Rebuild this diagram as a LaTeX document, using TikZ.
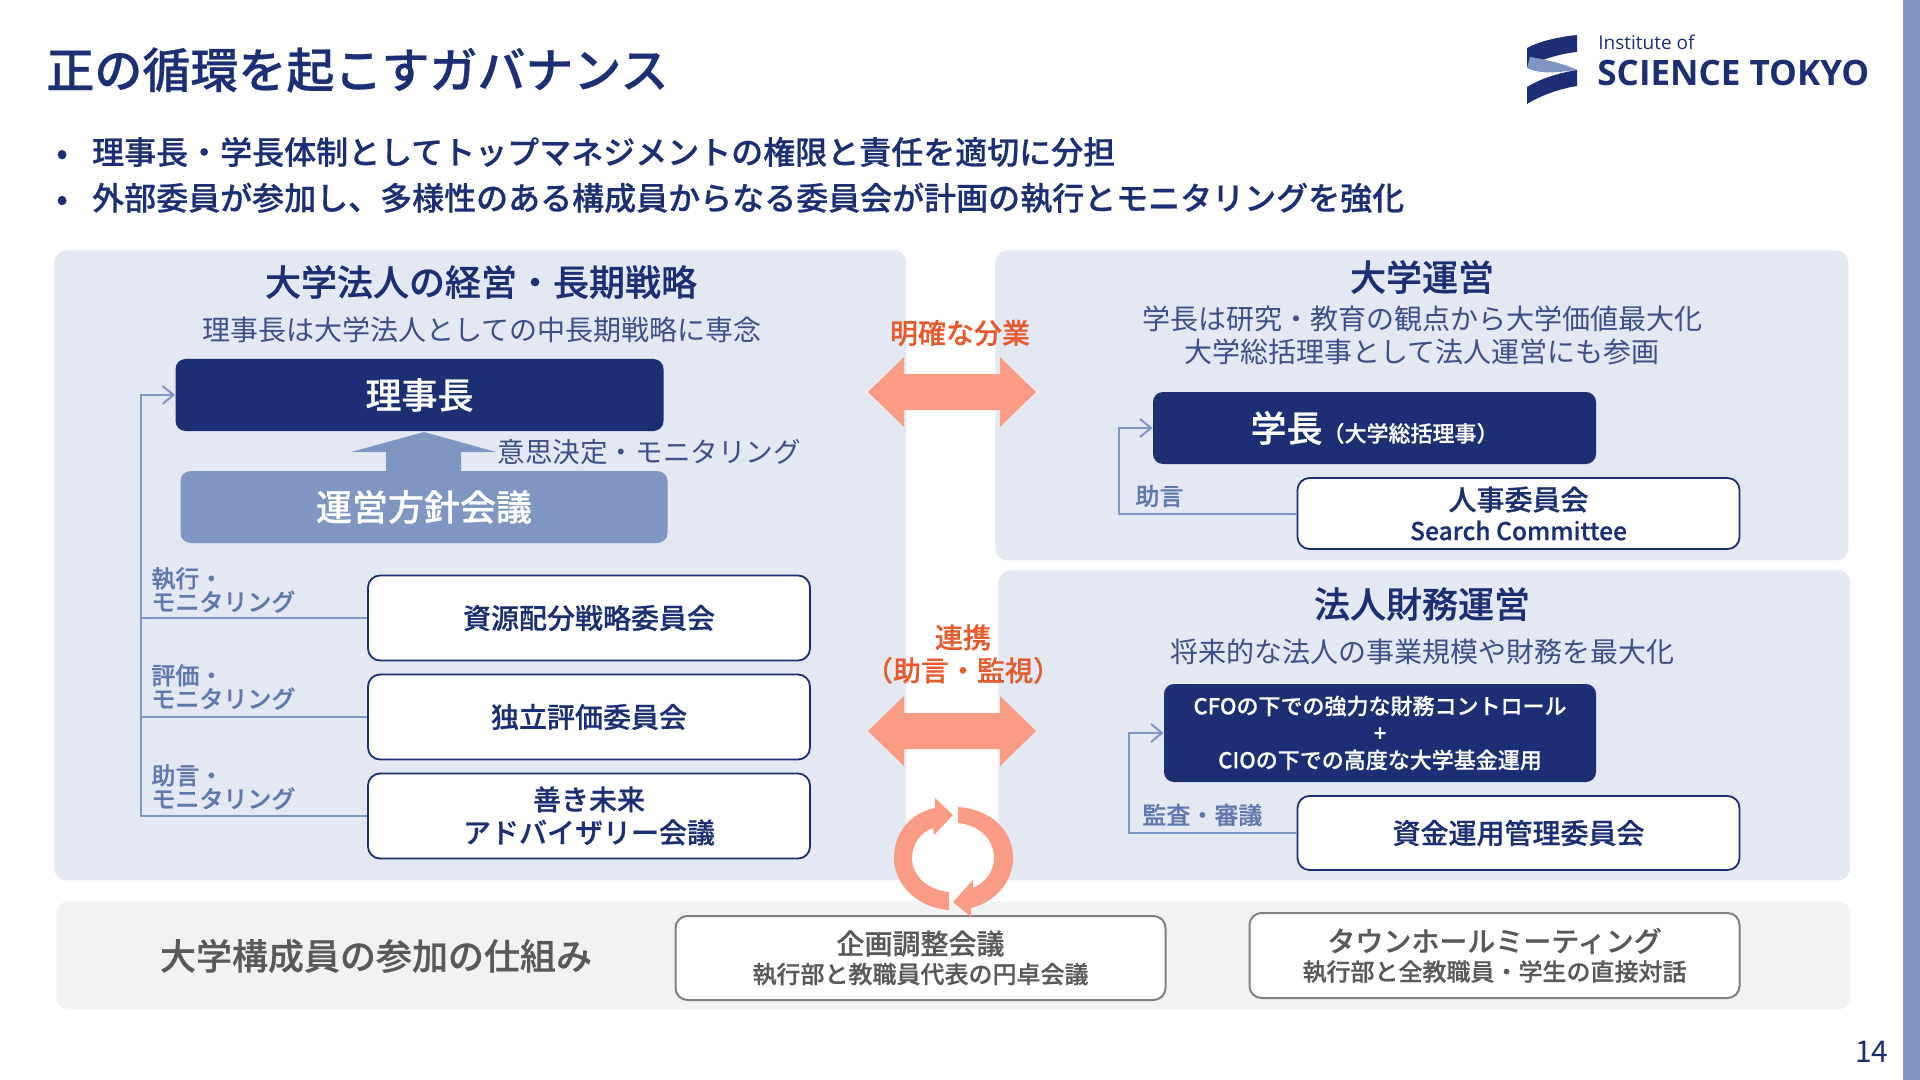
\documentclass[tikz,border=0pt]{standalone}
\usepackage{fontspec}
\usepackage{xcolor}
\setmainfont[BoldFont={Noto Sans CJK JP Medium},BoldFeatures={FakeBold=0.5}]{Noto Sans CJK JP}
\newfontfamily\logofont{Open Sans}
\usetikzlibrary{arrows.meta,positioning}
\definecolor{navyblue}{HTML}{1C2F74}
\definecolor{midblue}{HTML}{8096C2}
\definecolor{labelblue}{HTML}{5F78AD}
\definecolor{panelblue}{HTML}{E3E8F2}
\definecolor{panelgray}{HTML}{F2F2F2}
\definecolor{salmon}{HTML}{FA9C84}
\definecolor{orangetext}{HTML}{E55B2D}
\definecolor{graytext}{HTML}{595959}
\tikzset{
  panel/.style={fill=#1,rounded corners=6pt,anchor=north west,inner sep=0pt},
  headtext/.style={text=navyblue,font=\fontsize{18}{22}\selectfont\bfseries,inner sep=0pt},
  subtext/.style={text=navyblue!85!white,font=\fontsize{14}{16.5}\selectfont,inner sep=0pt,align=center},
  navybox/.style={fill=navyblue,text=white,rounded corners=5pt,inner sep=0pt,align=center,font=\fontsize{18}{22}\selectfont\bfseries},
  whitebox/.style={draw=navyblue,line width=0.9pt,fill=white,rounded corners=6pt,inner sep=0pt,align=center,text=navyblue,font=\fontsize{14}{16.5}\selectfont\bfseries,minimum width=221pt},
  graybox/.style={draw=gray,line width=1pt,fill=white,rounded corners=6pt,inner sep=0pt,align=center,text=graytext,font=\bfseries,minimum width=245pt},
  linktext/.style={text=labelblue,font=\fontsize{12}{11.6}\selectfont\bfseries,inner sep=0pt,align=left,anchor=west},
  splittext/.style={text=orangetext,font=\fontsize{14}{16.5}\selectfont\bfseries,inner sep=0pt,align=center},
  link/.style={draw=midblue,line width=1pt},
  tip/.style={-{Straight Barb[length=5.5pt,width=9pt]}},
  bullettext/.style={text=navyblue,font=\fontsize{16}{19}\selectfont\bfseries,inner sep=0pt,anchor=west}
}
\begin{document}
\begin{tikzpicture}[x=0.5pt,y=-0.5pt,node distance=6.1pt]
\useasboundingbox (0,0) rectangle (1920,1080);
\fill[midblue] (1903,0) rectangle (1920,1080);
% header
\node[text=navyblue,font=\fontsize{24}{28}\selectfont\bfseries,inner sep=0pt,anchor=west] (title) at (46,70) {正の循環を起こすガバナンス};
\node[bullettext] (pointa) at (56,152) {•\hspace{12.2pt}理事長・学長体制としてトップマネジメントの権限と責任を適切に分担};
\node[bullettext] (pointb) at (56,198) {•\hspace{12.2pt}外部委員が参加し、多様性のある構成員からなる委員会が計画の執行とモニタリングを強化};
% logo
\fill[navyblue] (1527,48) .. controls (1540,41) and (1558,37) .. (1577,35) -- (1577,52) .. controls (1558,54) and (1540,60) .. (1527,67) -- cycle;
\fill[midblue] (1530,57) .. controls (1548,60) and (1565,64) .. (1577,70) .. controls (1558,72) and (1542,75) .. (1527,68) -- cycle;
\fill[navyblue] (1527,87) .. controls (1540,79) and (1558,73) .. (1577,70) -- (1577,86) .. controls (1558,89) and (1540,96) .. (1527,104) -- cycle;
\node[text=navyblue,font=\logofont\fontsize{9.5}{11}\selectfont,inner sep=0pt,anchor=west] (logoa) at (1598,42) {Institute of};
\node[text=navyblue,font=\logofont\fontsize{17.5}{22}\selectfont\bfseries,inner sep=0pt,anchor=west] (logob) at (1597,73) {SCIENCE TOKYO};
\node[text=navyblue,font=\fontsize{15}{17}\selectfont,inner sep=0pt,anchor=east] (pageno) at (1889,1052) {14};
% panels
\node[panel=panelblue,minimum width=426pt,minimum height=315pt] (leftpanel) at (54,250) {};
\node[panel=panelblue,minimum width=426.5pt,minimum height=155pt] (toppanel) at (995,250) {};
\node[panel=panelblue,minimum width=426pt,minimum height=155pt] (lowpanel) at (998,570) {};
\node[panel=panelgray,minimum width=897pt,minimum height=54pt] (basepanel) at (56,901) {};
% left panel
\node[headtext] (lefthead) at (481,282) {大学法人の経営・長期戦略};
\node[subtext] (leftsub) at (482,330) {理事長は大学法人としての中長期戦略に専念};
\node[navybox,minimum width=244pt,minimum height=36pt] (chair) at (419.5,395) {理事長};
\node[navybox,fill=midblue,minimum width=243.5pt,minimum height=36pt] (policy) at (424,507) {運営方針会議};
\fill[midblue] (386,472) -- (386,452) -- (351,452) -- (424,432) -- (496,452) -- (461,452) -- (461,472) -- cycle;
\node[subtext,anchor=west,font=\fontsize{13.8}{16.5}\selectfont] (policylabel) at (497,452) {意思決定・モニタリング};
\node[whitebox,minimum height=42.5pt] (resource) at (589,618) {資源配分戦略委員会};
\node[whitebox,minimum height=42.5pt,below=of resource] (review) {独立評価委員会};
\node[whitebox,minimum height=42.5pt,below=of review] (future) {善き未来\\アドバイザリー会議};
\coordinate (leftbus) at (141,395);
\draw[link,tip] (future.west) -| (leftbus) -- (chair.west);
\draw[link] (resource.west) -- (resource.west -| leftbus);
\draw[link] (review.west) -- (review.west -| leftbus);
\node[linktext] (resourcelabel) at (151,590) {執行・\\[0.1pt]モニタリング};
\node[linktext] (reviewlabel) at (151,687) {評価・\\[0.1pt]モニタリング};
\node[linktext] (futurelabel) at (151,787) {助言・\\[0.1pt]モニタリング};
% top right panel
\node[headtext] (tophead) at (1422,277) {大学運営};
\node[subtext] (topsub) at (1422,335) {学長は研究・教育の観点から大学価値最大化\\大学総括理事として法人運営にも参画};
\node[navybox,minimum width=221.5pt,minimum height=36pt] (president) at (1374.5,428) {学長{\fontsize{11}{12}\selectfont （大学総括理事）}};
\node[whitebox,minimum height=35.5pt] (search) at (1518.5,513.5) {人事委員会\\[-1.5pt]{\fontsize{12.3}{16.5}\selectfont Search Committee}};
\coordinate (topbus) at (1119,428);
\draw[link,tip] (search.west) -| (topbus) -- (president.west);
\node[linktext] (searchlabel) at (1135,496) {助言};
% lower right panel
\node[headtext] (lowhead) at (1422,604) {法人財務運営};
\node[subtext] (lowsub) at (1422,652) {将来的な法人の事業規模や財務を最大化};
\node[navybox,minimum width=216pt,minimum height=49pt,font=\fontsize{11}{13.5}\selectfont\bfseries] (finance) at (1380,733) {CFOの下での強力な財務コントロール\\+\\CIOの下での高度な大学基金運用};
\node[whitebox,minimum height=37pt] (fund) at (1518.5,833) {資金運用管理委員会};
\coordinate (lowbus) at (1129,733);
\draw[link,tip] (fund.west) -| (lowbus) -- (finance.west);
\node[linktext] (fundlabel) at (1142,815) {監査・審議};
% bottom row
\node[text=graytext,font=\fontsize{18}{22}\selectfont\bfseries,inner sep=0pt] (basehead) at (376,956) {大学構成員の参加の仕組み};
\node[graybox,minimum height=42pt] (planning) at (920.5,958) {{\fontsize{14}{17}\selectfont 企画調整会議}\\[2.5pt]{\fontsize{12}{15}\selectfont 執行部と教職員代表の円卓会議}};
\node[graybox,minimum height=42.5pt] (townhall) at (1494.5,955.5) {{\fontsize{14}{17}\selectfont タウンホールミーティング}\\[2.5pt]{\fontsize{12}{15}\selectfont 執行部と全教職員・学生の直接対話}};
% division arrows
\fill[salmon] (868,392) -- (904,357) -- (904,374) -- (1000,374) -- (1000,357) -- (1036,392) -- (1000,427) -- (1000,410) -- (904,410) -- (904,427) -- cycle;
\fill[salmon] (868,731) -- (904,696) -- (904,713) -- (1000,713) -- (1000,696) -- (1036,731) -- (1000,766) -- (1000,749) -- (904,749) -- (904,766) -- cycle;
\node[splittext] (splitlabel) at (960,333) {明確な分業};
\node[splittext] (linklabel) at (963,654) {連携\\（助言・監視）};
% cycle arrows
\fill[salmon] (958,807) .. controls (990,809) and (1013,830) .. (1013,858) .. controls (1013,882) and (995,902) .. (971,908) -- (971,917) -- (953,902) -- (973,880) -- (973,888) .. controls (986,882) and (994,871) .. (994,858) .. controls (994,838) and (978,825) .. (958,823) -- cycle;
\fill[salmon] (949,910) .. controls (918,908) and (894,885) .. (894,858) .. controls (894,833) and (910,813) .. (935,808) -- (935,798) -- (953,815) -- (934,835) -- (933,828) .. controls (920,832) and (912,845) .. (912,858) .. controls (912,876) and (928,890) .. (949,892) -- cycle;
\end{tikzpicture}
\end{document}
